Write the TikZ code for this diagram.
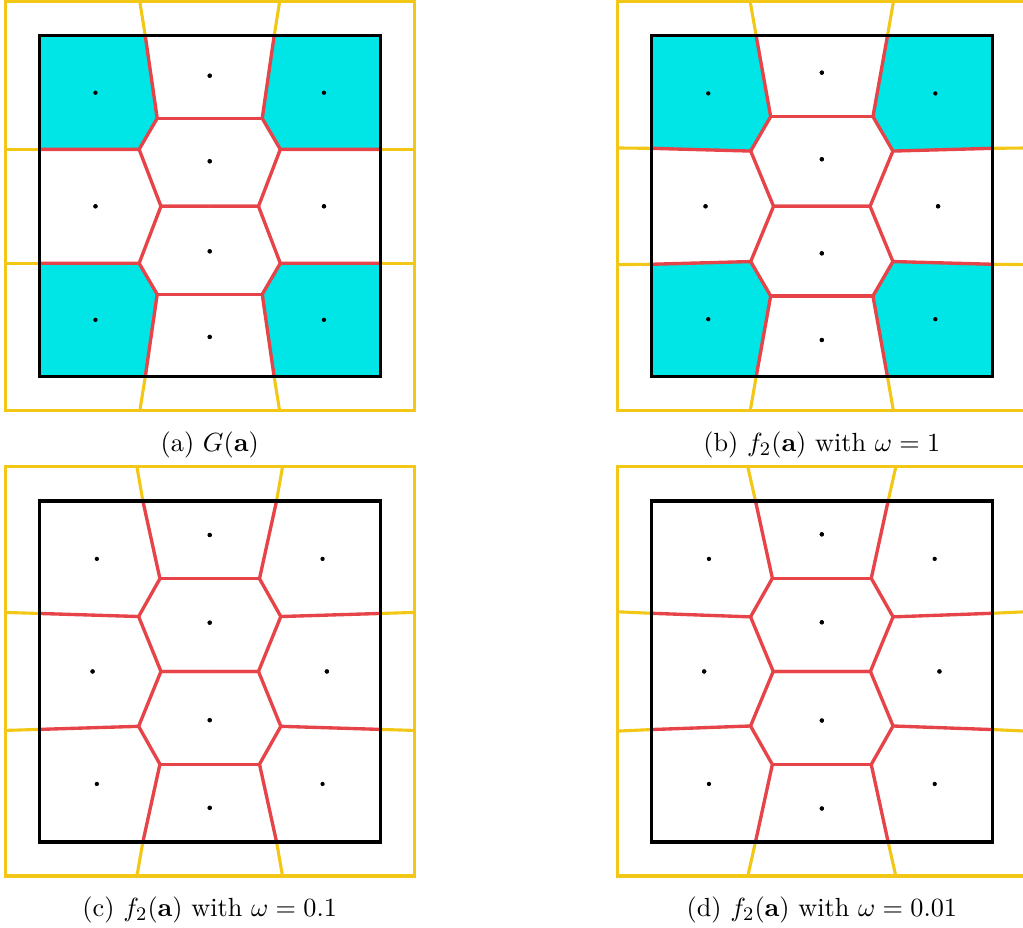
\documentclass[tikz,border=0pt]{standalone}
\usepackage{amsmath}
\usepackage{tikz}
\usetikzlibrary{positioning}
\definecolor{cellcyan}{RGB}{0,229,229}
\definecolor{edgered}{RGB}{230,68,72}
\definecolor{edgeyellow}{RGB}{243,199,22}
\tikzset{
  border/.style={draw=black, line width=1.4pt},
  outer/.style={draw=edgeyellow, line width=1.3pt},
  redge/.style={draw=edgered, line width=1.4pt, line join=round},
  yedge/.style={draw=edgeyellow, line width=1.3pt},
  corner/.style={fill=cellcyan},
  site/.style={fill=black},
  caption/.style={font=\fontsize{10.95}{13.6}\selectfont, inner sep=0pt}
}

\begin{document}
\begin{tikzpicture}[x=5cm,y=5cm]
\useasboundingbox (-0.115,-1.6164) rectangle (2.885,1.105);

% (a) G(a)
\begin{scope}[shift={(0.5,0.5)}]
\foreach \sx/\sy in {1/1,-1/1,1/-1,-1/-1}{
  \begin{scope}[xscale=\sx, yscale=\sy]
  \coordinate (bt) at (-0.189,-0.5);
  \coordinate (by) at (-0.205,-0.6);
  \coordinate (e) at (-0.154,-0.258);
  \coordinate (d) at (-0.207,-0.167);
  \coordinate (c) at (-0.143,0);
  \coordinate (s) at (-0.5,-0.167);
  \coordinate (sy) at (-0.6,-0.167);
  \fill[corner] (-0.5,-0.5) -- (bt) -- (e) -- (d) -- (s) -- cycle;
  \draw[yedge] (bt) -- (by);
  \draw[yedge] (s) -- (sy);
  \draw[redge] (s) -- (d) -- (e) -- (bt);
  \draw[redge] (d) -- (c) -- (0,0);
  \draw[redge] (e) -- (0,-0.258);
  \fill[site] (-0.335,-0.333) circle[radius=0.9pt] (0,-0.383) circle[radius=0.9pt]
    (-0.335,0) circle[radius=0.9pt] (0,-0.132) circle[radius=0.9pt];
  \end{scope}
}
\draw[outer] (-0.6,-0.6) rectangle (0.6,0.6);
\draw[border] (-0.5,-0.5) rectangle (0.5,0.5);
\node[caption] (capa) at (0,-0.7) {(a) $G(\mathbf{a})$};
\end{scope}

% (b) omega = 1
\begin{scope}[shift={(2.295,0.5)}]
\foreach \sx/\sy in {1/1,-1/1,1/-1,-1/-1}{
  \begin{scope}[xscale=\sx, yscale=\sy]
  \coordinate (bt) at (-0.1925,-0.5);
  \coordinate (by) at (-0.21,-0.6);
  \coordinate (e) at (-0.15,-0.263);
  \coordinate (d) at (-0.2085,-0.162);
  \coordinate (c) at (-0.1415,0);
  \coordinate (s) at (-0.5,-0.17);
  \coordinate (sy) at (-0.6,-0.171);
  \fill[corner] (-0.5,-0.5) -- (bt) -- (e) -- (d) -- (s) -- cycle;
  \draw[yedge] (bt) -- (by);
  \draw[yedge] (s) -- (sy);
  \draw[redge] (s) -- (d) -- (e) -- (bt);
  \draw[redge] (d) -- (c) -- (0,0);
  \draw[redge] (e) -- (0,-0.263);
  \fill[site] (-0.333,-0.331) circle[radius=0.9pt] (0,-0.392) circle[radius=0.9pt]
    (-0.341,0) circle[radius=0.9pt] (0,-0.138) circle[radius=0.9pt];
  \end{scope}
}
\draw[outer] (-0.6,-0.6) rectangle (0.6,0.6);
\draw[border] (-0.5,-0.5) rectangle (0.5,0.5);
\node[caption] (capb) at (0,-0.7) {(b) $f_2(\mathbf{a})$ with $\omega=1$};
\end{scope}

% (c) omega = 0.1
\begin{scope}[shift={(0.5,-0.864)}]
\foreach \sx/\sy in {1/1,-1/1,1/-1,-1/-1}{
  \begin{scope}[xscale=\sx, yscale=\sy]
  \coordinate (bt) at (-0.196,-0.5);
  \coordinate (by) at (-0.2135,-0.6);
  \coordinate (e) at (-0.146,-0.272);
  \coordinate (d) at (-0.2085,-0.161);
  \coordinate (c) at (-0.143,0);
  \coordinate (s) at (-0.5,-0.17);
  \coordinate (sy) at (-0.6,-0.173);
  \draw[yedge] (bt) -- (by);
  \draw[yedge] (s) -- (sy);
  \draw[redge] (s) -- (d) -- (e) -- (bt);
  \draw[redge] (d) -- (c) -- (0,0);
  \draw[redge] (e) -- (0,-0.272);
  \fill[site] (-0.331,-0.33) circle[radius=0.9pt] (0,-0.4) circle[radius=0.9pt]
    (-0.3435,0) circle[radius=0.9pt] (0,-0.143) circle[radius=0.9pt];
  \end{scope}
}
\draw[outer] (-0.6,-0.6) rectangle (0.6,0.6);
\draw[border] (-0.5,-0.5) rectangle (0.5,0.5);
\node[caption] (capc) at (0,-0.7) {(c) $f_2(\mathbf{a})$ with $\omega=0.1$};
\end{scope}

% (d) omega = 0.01
\begin{scope}[shift={(2.295,-0.864)}]
\foreach \sx/\sy in {1/1,-1/1,1/-1,-1/-1}{
  \begin{scope}[xscale=\sx, yscale=\sy]
  \coordinate (bt) at (-0.1945,-0.5);
  \coordinate (by) at (-0.217,-0.6);
  \coordinate (e) at (-0.145,-0.273);
  \coordinate (d) at (-0.209,-0.16);
  \coordinate (c) at (-0.1425,0);
  \coordinate (s) at (-0.5,-0.1705);
  \coordinate (sy) at (-0.6,-0.175);
  \draw[yedge] (bt) -- (by);
  \draw[yedge] (s) -- (sy);
  \draw[redge] (s) -- (d) -- (e) -- (bt);
  \draw[redge] (d) -- (c) -- (0,0);
  \draw[redge] (e) -- (0,-0.273);
  \fill[site] (-0.331,-0.33) circle[radius=0.9pt] (0,-0.402) circle[radius=0.9pt]
    (-0.345,0) circle[radius=0.9pt] (0,-0.144) circle[radius=0.9pt];
  \end{scope}
}
\draw[outer] (-0.6,-0.6) rectangle (0.6,0.6);
\draw[border] (-0.5,-0.5) rectangle (0.5,0.5);
\node[caption] (capd) at (0,-0.7) {(d) $f_2(\mathbf{a})$ with $\omega=0.01$};
\end{scope}
\end{tikzpicture}
\end{document}
